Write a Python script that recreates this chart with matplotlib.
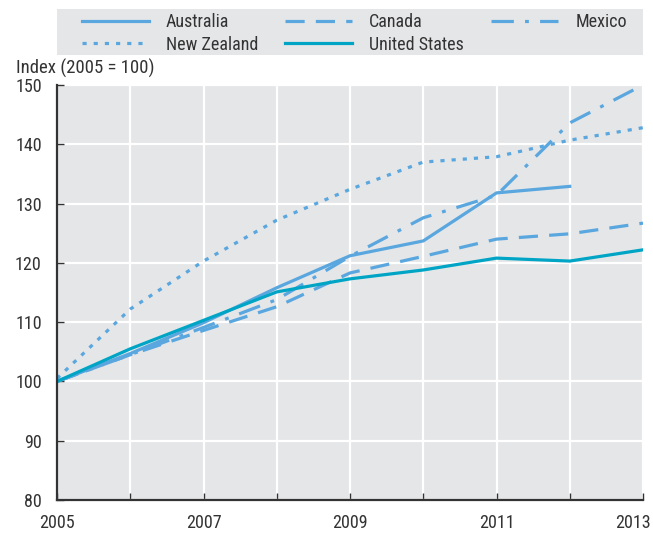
import matplotlib.pyplot as plt
import matplotlib.transforms as mtransforms
from matplotlib.patches import Rectangle
from matplotlib import font_manager

# pick a condensed font if available
names = {f.name for f in font_manager.fontManager.ttflist}
for cand in ['Roboto Condensed', 'Liberation Sans Narrow', 'Archivo Narrow', 'Liberation Sans']:
    if cand in names:
        plt.rcParams['font.family'] = [cand, 'DejaVu Sans']
        break

# ==========================================
# Data (Index 2005 = 100)
# ==========================================
years = [2005, 2006, 2007, 2008, 2009, 2010, 2011, 2012, 2013]
australia = [100, 104.7, 109.9, 115.8, 121.2, 123.7, 131.8, 132.9]
canada = [100, 104.5, 108.6, 112.6, 118.3, 121.1, 124.0, 124.9, 126.7]
mexico = [100, 104.5, 109.1, 113.8, 121.1, 127.6, 131.4, 143.6, 150.0]
new_zealand = [100.5, 112.2, 120.3, 127.2, 132.4, 137.0, 137.9, 140.7, 142.8]
united_states = [100, 105.5, 110.3, 115.1, 117.3, 118.8, 120.8, 120.3, 122.2]

blue = '#5AA7DF'
teal = '#00A5C6'
bg = '#E5E6E8'
txt = '#333333'
fs = 13

fig = plt.figure(figsize=(6.53, 5.33), dpi=100)
ax = fig.add_axes([57 / 653, 33 / 533, 586 / 653, 415 / 533])
ax.set_facecolor(bg)

lw = 2.3
l_aus, = ax.plot(years[:len(australia)], australia, color=blue, lw=lw, label='Australia')
l_can, = ax.plot(years, canada, color=blue, lw=lw, dashes=(6, 3.5), label='Canada')
l_mex, = ax.plot(years, mexico, color=blue, lw=lw, dashes=(7, 3.5, 1.2, 3.5), label='Mexico')
l_nz, = ax.plot(years, new_zealand, color=blue, lw=lw, dashes=(1.3, 2.2), label='New Zealand')
l_us, = ax.plot(years, united_states, color=teal, lw=lw, label='United States')

ax.set_xlim(2005, 2013)
ax.set_ylim(80, 150)
ax.set_xticks(range(2005, 2014))
ax.set_xticklabels([str(y) if (y - 2005) % 2 == 0 else '' for y in range(2005, 2014)])
ax.set_yticks(range(80, 151, 10))

ax.grid(True, color='white', lw=1.6)
ax.set_axisbelow(True)
for s in ['top', 'right']:
    ax.spines[s].set_visible(False)
for s in ['left', 'bottom']:
    ax.spines[s].set_color(txt)
    ax.spines[s].set_linewidth(1.6)

ax.tick_params(axis='both', direction='in', length=5, width=1, color=txt,
               labelsize=fs, labelcolor=txt)
ax.tick_params(axis='x', pad=10)
ax.tick_params(axis='y', pad=11)

# keep the last year label inside the figure
last = ax.get_xticklabels()[-1]
last.set_horizontalalignment('right')
last.set_transform(last.get_transform() + mtransforms.ScaledTranslation(8 / 100, 0, fig.dpi_scale_trans))

fig.text(16 / 653, 1 - 68 / 533, 'Index (2005 = 100)', fontsize=13.5, color=txt,
         va='center', ha='left')

# gray legend band across the top
fig.patches.append(Rectangle((57 / 653, 1 - 55 / 533), 586 / 653, 46 / 533,
                             transform=fig.transFigure, facecolor=bg, edgecolor='none', zorder=0))
handles = [l_aus, l_nz, l_can, l_us, l_mex]
leg = fig.legend(handles=handles, labels=[h.get_label() for h in handles],
                 ncol=3, loc='upper left', bbox_to_anchor=(82 / 653, 1 - 13 / 533),
                 frameon=False, fontsize=fs,
                 handlelength=3.7, handletextpad=0.95, columnspacing=1.5,
                 labelspacing=0.25, borderpad=0, borderaxespad=0)
for t in leg.get_texts():
    t.set_color(txt)

fig.savefig('out.png', dpi=100)
